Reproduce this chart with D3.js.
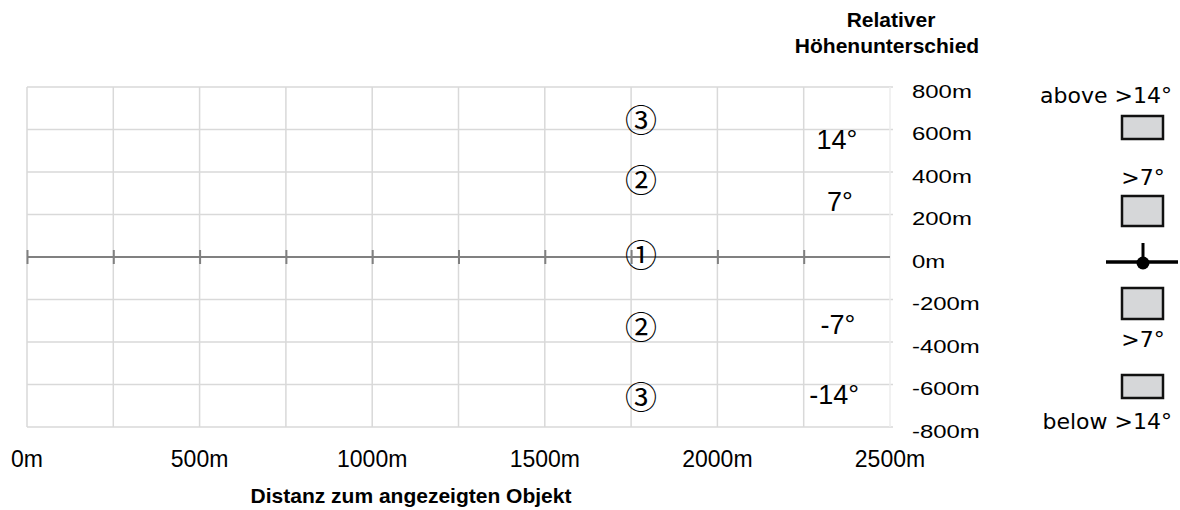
<!DOCTYPE html>
<html>
<head>
<meta charset="utf-8">
<script src="https://cdn.jsdelivr.net/npm/d3@7/dist/d3.min.js"></script>
<style>
body { margin: 0; background: #fff; }
text { font-family: "Liberation Sans", Arial, sans-serif; fill: #000; }
.legend text { font-family: "DejaVu Sans", Verdana, sans-serif; font-size: 22px; }
</style>
</head>
<body>
<div id="chart"></div>
<script>

// distance ticks (gridlines) and labelled ticks
var distTicks = [0, 250, 500, 750, 1000, 1250, 1500, 1750, 2000, 2250, 2500];
var distLabels = [0, 500, 1000, 1500, 2000, 2500];
var heightTicks = [800, 600, 400, 200, 0, -200, -400, -600, -800];

// zone markers
var zoneMarks = ["③", "②", "①", "②", "③"];
var zoneDist = [1779, 1779, 1779, 1779, 1779];
var zoneHeight = [656, 372, 19, -320, -650];

// angle labels
var angleNames = ["14°", "7°", "-7°", "-14°"];
var angleDist = [2346, 2355, 2349, 2338];
var angleHeight = [551, 259, -320, -650];

var legendNames = ["above >14°", ">7°", ">7°", "below >14°"];

profile = function(_parentElement) {
    this.parentElement = _parentElement;
    this.initVis();
}

profile.prototype.initVis = function() {
    var vis = this;

    vis.width = 1180;
    vis.height = 510;

    vis.svg = d3.select(vis.parentElement).append("svg")
        .attr("width", vis.width)
        .attr("height", vis.height);

    vis.x = d3.scaleLinear()
        .domain([0, 2500])
        .range([27, 890]);

    vis.y = d3.scaleLinear()
        .domain([-800, 800])
        .range([427, 87]);

    // grid
    var grid = vis.svg.append("g").attr("class", "grid");

    grid.selectAll(".hline")
        .data(heightTicks.filter(function(d) { return d != 0; }))
        .enter().append("line")
        .attr("x1", vis.x(0))
        .attr("x2", vis.x(2500) + 3)
        .attr("y1", function(d) { return vis.y(d); })
        .attr("y2", function(d) { return vis.y(d); })
        .attr("stroke", "#d9d9d9")
        .attr("stroke-width", 1.5);

    grid.selectAll(".vline")
        .data(distTicks)
        .enter().append("line")
        .attr("x1", function(d) { return vis.x(d); })
        .attr("x2", function(d) { return vis.x(d); })
        .attr("y1", vis.y(800))
        .attr("y2", vis.y(-800))
        .attr("stroke", function(d) { return d == 2500 ? "#ececec" : "#d9d9d9"; })
        .attr("stroke-width", 1.5);

    // zero line with ticks
    var xAxis = d3.axisBottom(vis.x)
        .tickValues(distTicks)
        .tickSize(7)
        .tickFormat("");

    var axisG = vis.svg.append("g")
        .attr("class", "axis x-axis")
        .attr("transform", "translate(0," + vis.y(0) + ")")
        .call(xAxis);

    axisG.select(".domain")
        .attr("d", "M" + vis.x(0) + ",0H" + vis.x(2500))
        .attr("stroke", "#808080")
        .attr("stroke-width", 2);

    axisG.selectAll(".tick line")
        .attr("y1", -7)
        .attr("y2", 7)
        .attr("stroke", "#808080")
        .attr("stroke-width", 2);

    axisG.selectAll(".tick").filter(function(d) { return d == 2500; }).remove();

    // distance labels along the bottom
    vis.svg.selectAll(".xlab")
        .data(distLabels)
        .enter().append("text")
        .attr("class", "xlab")
        .attr("x", function(d) { return vis.x(d); })
        .attr("y", 467)
        .attr("text-anchor", "middle")
        .style("font-size", "23px")
        .text(function(d) { return d + "m"; });

    // height labels, drawn a bit stretched like the original
    vis.svg.selectAll(".ylab")
        .data(heightTicks)
        .enter().append("text")
        .attr("class", "ylab")
        .attr("transform", function(d) {
            return "translate(912," + (vis.y(d) + 10.5) + ") scale(1.33,1)";
        })
        .style("font-size", "18px")
        .text(function(d) { return d + "m"; });

    // zone markers
    vis.svg.selectAll(".zone")
        .data(zoneMarks)
        .enter().append("text")
        .attr("class", "zone")
        .attr("x", function(d, i) { return vis.x(zoneDist[i]); })
        .attr("y", function(d, i) { return vis.y(zoneHeight[i]); })
        .attr("text-anchor", "middle")
        .attr("dominant-baseline", "central")
        .style("font-family", "'Noto Sans CJK JP', 'DejaVu Sans', sans-serif")
        .style("font-size", "32px")
        .text(function(d) { return d; });

    // angle labels
    vis.svg.selectAll(".angle")
        .data(angleNames)
        .enter().append("text")
        .attr("class", "angle")
        .attr("x", function(d, i) { return vis.x(angleDist[i]); })
        .attr("y", function(d, i) { return vis.y(angleHeight[i]); })
        .attr("text-anchor", "middle")
        .attr("dominant-baseline", "central")
        .style("font-size", "27px")
        .text(function(d) { return d; });

    // titles
    vis.svg.append("text")
        .attr("x", 891)
        .attr("y", 27)
        .attr("text-anchor", "middle")
        .style("font-size", "21px")
        .style("font-weight", "bold")
        .text("Relativer");

    vis.svg.append("text")
        .attr("x", 887)
        .attr("y", 53)
        .attr("text-anchor", "middle")
        .style("font-size", "21px")
        .style("font-weight", "bold")
        .text("Höhenunterschied");

    vis.svg.append("text")
        .attr("x", 411)
        .attr("y", 503)
        .attr("text-anchor", "middle")
        .style("font-size", "21px")
        .style("font-weight", "bold")
        .text("Distanz zum angezeigten Objekt");

    // legend on the right
    var legend = vis.svg.append("g").attr("class", "legend");

    legend.append("text").attr("x", 1172).attr("y", 103)
        .attr("text-anchor", "end").text(legendNames[0]);
    legend.append("text").attr("x", 1143).attr("y", 185)
        .attr("text-anchor", "middle").text(legendNames[1]);
    legend.append("text").attr("x", 1143).attr("y", 347)
        .attr("text-anchor", "middle").text(legendNames[2]);
    legend.append("text").attr("x", 1172).attr("y", 429)
        .attr("text-anchor", "end").text(legendNames[3]);

    var boxes = [[116, 23], [196, 30], [288, 31], [375, 23]];
    legend.selectAll("rect")
        .data(boxes)
        .enter().append("rect")
        .attr("x", 1122)
        .attr("y", function(d) { return d[0]; })
        .attr("width", 41)
        .attr("height", function(d) { return d[1]; })
        .attr("fill", "#d6d7d9")
        .attr("stroke", "#111")
        .attr("stroke-width", 2.5);

    legend.append("line")
        .attr("x1", 1106).attr("x2", 1178)
        .attr("y1", 262).attr("y2", 262)
        .attr("stroke", "#000").attr("stroke-width", 3.5);
    legend.append("line")
        .attr("x1", 1143).attr("x2", 1143)
        .attr("y1", 243).attr("y2", 262)
        .attr("stroke", "#000").attr("stroke-width", 3);
    legend.append("circle")
        .attr("cx", 1143).attr("cy", 263).attr("r", 6.5)
        .attr("fill", "#000");
}

var chart = new profile("#chart");

</script>
</body>
</html>
